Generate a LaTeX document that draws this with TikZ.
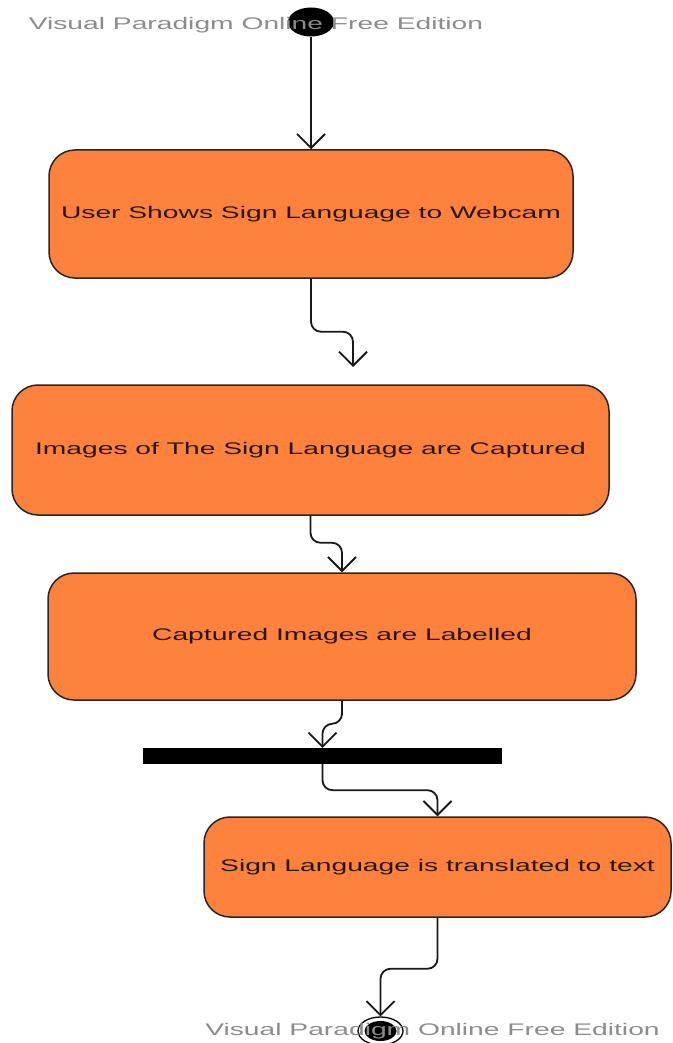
\documentclass[tikz,border=0pt]{standalone}
\usepackage{fontspec}
\setmainfont{Liberation Sans}
\usetikzlibrary{arrows.meta,shapes.geometric}
\definecolor{actfill}{RGB}{254,129,61}
\definecolor{acttext}{RGB}{40,24,12}
\definecolor{wmgray}{RGB}{140,140,140}
\newcommand\actfont{\fontsize{16.8}{20}\selectfont}
\newcommand\stretchtxt[1]{\scalebox{1.68}[1]{#1}}
\tikzset{
  act/.style={draw=black!85, line width=1.5pt, fill=actfill, rounded corners=26pt,
    inner sep=0pt, font=\actfont, text=acttext},
  flow/.style={line width=1.8pt, draw=black!90, rounded corners=10pt,
    -{Straight Barb[length=14pt,width=28pt]}},
  wm/.style={text=wmgray, font=\actfont, inner sep=0pt},
}
\begin{document}
\begin{tikzpicture}[x=1pt,y=-1pt]
\useasboundingbox[fill=white] (0,0) rectangle (672,1043);
% initial node
\node[ellipse, fill=black, minimum width=46pt, minimum height=29pt, inner sep=0pt] (start) at (311,22) {};
% activities
\node[act, minimum width=524pt, minimum height=128pt] (b1) at (311,214) {\stretchtxt{User Shows Sign Language to Webcam}};
\node[act, minimum width=597pt, minimum height=130pt] (b2) at (310.5,450) {\stretchtxt{Images of The Sign Language are Captured}};
\node[act, minimum width=588pt, minimum height=127pt] (b3) at (342,636.5) {\stretchtxt{Captured Images are Labelled}};
\node[fill=black, minimum width=359pt, minimum height=16pt, inner sep=0pt] (bar) at (322.5,756) {};
\node[act, minimum width=467pt, minimum height=100pt] (b4) at (437.5,867) {\stretchtxt{Sign Language is translated to text}};
% final node
\node[ellipse, draw=black, line width=1.3pt, fill=white, minimum width=45pt, minimum height=28pt, inner sep=0pt] (endo) at (380.5,1031) {};
\node[ellipse, fill=black, minimum width=32pt, minimum height=20pt, inner sep=0pt] (endi) at (endo.center) {};
% free ends
\coordinate (c2) at (353,367);
% connectors
\draw[flow] (start.south) -- (b1.north);
\draw[flow] (b1.south) -- ++(0,53) -| (c2);
\draw[flow] (b2.south) -- ++(0,27) -| (b3.north);
\draw[flow] (b3.south) -- ++(0,23) -| (bar.north);
\draw[flow] (bar.south) -- ++(0,26) -| (b4.north);
\draw[flow] (b4.south) -- ++(0,51) -| (endo.north);
% watermarks
\node[wm] (wm1) at (256,25.5) {\stretchtxt{Visual Paradigm Online Free Edition}};
\node[wm] (wm2) at (432.5,1031.5) {\stretchtxt{Visual Paradigm Online Free Edition}};
\end{tikzpicture}
\end{document}
